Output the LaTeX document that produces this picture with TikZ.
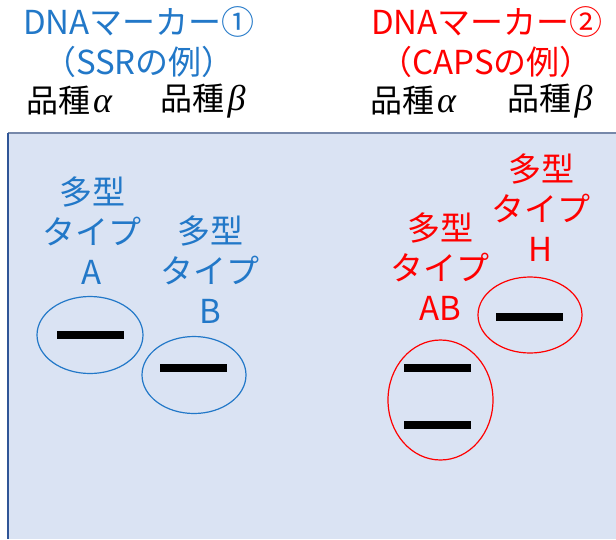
\documentclass[tikz,border=0pt]{standalone}
\usepackage{fontspec}
\setmainfont{Noto Sans CJK JP}
\newfontfamily\grk{Liberation Serif}
\usetikzlibrary{shapes.geometric}
\definecolor{tblue}{RGB}{34,120,200}
\definecolor{tred}{RGB}{255,0,0}
\definecolor{panelfill}{RGB}{218,227,243}
\definecolor{paneltop}{RGB}{118,136,170}
\definecolor{panelleft}{RGB}{47,85,151}
\newcommand{\galpha}{\hspace{3pt}{\grk\itshape\fontsize{36}{40}\selectfont α}}
\newcommand{\gbeta}{\hspace{3pt}{\grk\itshape\fontsize{36}{40}\selectfont β}}
\begin{document}
\begin{tikzpicture}[x=1pt,y=-1pt,
  txt/.style={inner sep=0pt,align=center,font=\fontsize{33}{40}\selectfont},
  ring/.style={ellipse,draw,line width=1.2pt,inner sep=0pt},
  band/.style={fill=black,draw=none,minimum width=67pt,minimum height=8.5pt,inner sep=0pt}]
\useasboundingbox (0,0) rectangle (616,539);
\fill[white] (0,0) rectangle (616,539);
% panel
\fill[panelfill] (8,133) rectangle (616,539);
\draw[paneltop,line width=1.5pt] (8,133) -- (616,133);
\draw[panelleft,line width=1.5pt] (8,133) -- (8,539);
% titles
\node[txt,text=tblue] (t1) at (139,22) {DNAマーカー①};
\node[txt,text=tblue] (t1b) at (139,62) {（SSRの例）};
\node[txt,text=tred] (t2) at (487,22) {DNAマーカー②};
\node[txt,text=tred] (t2b) at (486,62) {（CAPSの例）};
\node[txt,font=\fontsize{32}{40}\selectfont] (v1a) at (69,101) {品種\galpha};
\node[txt,font=\fontsize{32}{40}\selectfont] (v1b) at (203,101) {品種\gbeta};
\node[txt,font=\fontsize{32}{40}\selectfont] (v2a) at (413,101) {品種\galpha};
\node[txt,font=\fontsize{32}{40}\selectfont] (v2b) at (550,101) {品種\gbeta};
% SSR
\node[txt,text=tblue] (la) at (92,231) {多型\\タイプ\\A};
\node[txt,text=tblue] (lb) at (210,270) {多型\\タイプ\\B};
\node[ring,draw=tblue,minimum width=106pt,minimum height=77pt] (ea) at (90,335) {};
\node[ring,draw=tblue,minimum width=104pt,minimum height=77pt] (eb) at (194,375) {};
\node[band] (ba) at (90.5,335) {};
\node[band] (bb) at (193.5,368) {};
% CAPS
\node[txt,text=tred] (lh) at (541,208) {多型\\タイプ\\H};
\node[txt,text=tred] (lab) at (440,267) {多型\\タイプ\\AB};
\node[ring,draw=tred,minimum width=104pt,minimum height=76pt] (eh) at (530,315) {};
\node[ring,draw=tred,minimum width=105pt,minimum height=120pt] (eab) at (440.5,400) {};
\node[band] (bh) at (529,317) {};
\node[band] (bab1) at (437.5,368) {};
\node[band] (bab2) at (437.5,425) {};
\end{tikzpicture}
\end{document}
